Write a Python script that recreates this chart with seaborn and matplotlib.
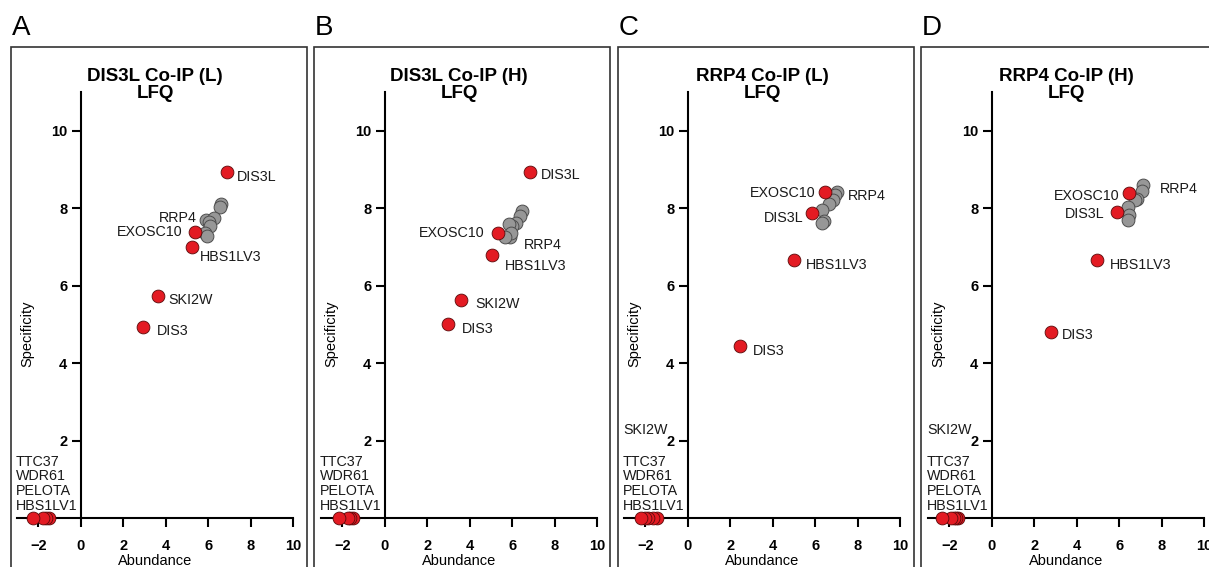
import matplotlib
matplotlib.use("Agg")
import matplotlib.pyplot as plt
import pandas as pd
import seaborn as sns
from matplotlib.patches import Rectangle

sns.set_theme(style="white")
plt.rcParams["font.family"] = ["Liberation Sans", "DejaVu Sans"]

# ---------------------------------------------------------------- data
panel_letters = ["A", "B", "C", "D"]
panel_titles = [
    "DIS3L Co-IP (L)\nLFQ",
    "DIS3L Co-IP (H)\nLFQ",
    "RRP4 Co-IP (L)\nLFQ",
    "RRP4 Co-IP (H)\nLFQ",
]
x_ticks = [-2, 0, 2, 4, 6, 8, 10]
y_ticks = [2, 4, 6, 8, 10]

# A: DIS3L Co-IP (L)
a_hit_names = ["DIS3L", "EXOSC10", "HBS1LV3", "SKI2W", "DIS3",
               "TTC37", "WDR61", "PELOTA", "HBS1LV1"]
a_hit_abundance = [6.9, 5.4, 5.26, 3.62, 2.92, -1.5, -1.65, -1.78, -2.25]
a_hit_specificity = [8.94, 7.39, 7.0, 5.74, 4.93, 0, 0, 0, 0]
a_core_names = ["RRP4", "", "", "", "", "", "", ""]
a_core_abundance = [5.9, 6.6, 6.56, 6.3, 6.05, 6.1, 5.87, 5.96]
a_core_specificity = [7.7, 8.1, 8.03, 7.75, 7.65, 7.55, 7.36, 7.27]

# B: DIS3L Co-IP (H)
b_hit_names = ["DIS3L", "EXOSC10", "HBS1LV3", "SKI2W", "DIS3",
               "TTC37", "WDR61", "PELOTA", "HBS1LV1"]
b_hit_abundance = [6.84, 5.33, 5.05, 3.58, 2.97, -1.5, -1.65, -1.75, -2.17]
b_hit_specificity = [8.94, 7.36, 6.8, 5.62, 5.0, 0, 0, 0, 0]
b_core_names = ["RRP4", "", "", "", "", "", "", ""]
b_core_abundance = [5.9, 6.46, 6.37, 6.2, 6.0, 5.86, 5.97, 5.66]
b_core_specificity = [7.26, 7.94, 7.8, 7.63, 7.53, 7.58, 7.36, 7.26]

# C: RRP4 Co-IP (L)
c_hit_names = ["EXOSC10", "DIS3L", "HBS1LV3", "DIS3",
               "SKI2W", "TTC37", "WDR61", "PELOTA", "HBS1LV1"]
c_hit_abundance = [6.46, 5.85, 5.0, 2.45, -1.46, -1.65, -1.85, -2.03, -2.22]
c_hit_specificity = [8.42, 7.88, 6.67, 4.44, 0, 0, 0, 0, 0]
c_core_names = ["RRP4", "", "", "", "", "", ""]
c_core_abundance = [7.03, 6.93, 6.84, 6.65, 6.32, 6.42, 6.32]
c_core_specificity = [8.42, 8.35, 8.22, 8.11, 7.96, 7.67, 7.62]

# D: RRP4 Co-IP (H)
d_hit_names = ["EXOSC10", "DIS3L", "HBS1LV3", "DIS3",
               "SKI2W", "TTC37", "WDR61", "PELOTA", "HBS1LV1"]
d_hit_abundance = [6.48, 5.9, 4.95, 2.8, -1.57, -1.7, -1.76, -1.9, -2.33]
d_hit_specificity = [8.4, 7.9, 6.67, 4.8, 0, 0, 0, 0, 0]
d_core_names = ["RRP4", "", "", "", "", "", ""]
d_core_abundance = [7.14, 7.1, 6.86, 6.76, 6.43, 6.48, 6.43]
d_core_specificity = [8.6, 8.45, 8.23, 8.2, 8.03, 7.83, 7.7]

hits = {
    "A": (a_hit_names, a_hit_abundance, a_hit_specificity),
    "B": (b_hit_names, b_hit_abundance, b_hit_specificity),
    "C": (c_hit_names, c_hit_abundance, c_hit_specificity),
    "D": (d_hit_names, d_hit_abundance, d_hit_specificity),
}
cores = {
    "A": (a_core_names, a_core_abundance, a_core_specificity),
    "B": (b_core_names, b_core_abundance, b_core_specificity),
    "C": (c_core_names, c_core_abundance, c_core_specificity),
    "D": (d_core_names, d_core_abundance, d_core_specificity),
}

# ---------------------------------------------------------------- styling
W, H = 1209, 567
HIT_RED = "#e31b23"
CORE_GREY = "#979797"
LABEL_SIZE = 10.3

# label offsets in pixels (dx, dy, horizontal alignment)
label_offsets = {
    "A": {"DIS3L": (10, -5, "left"), "EXOSC10": (-13, 0, "right"),
          "HBS1LV3": (8, -10, "left"), "SKI2W": (11, -4, "left"),
          "DIS3": (14, -4, "left"), "RRP4": (-9, 2, "right")},
    "B": {"DIS3L": (11, -3, "left"), "EXOSC10": (-13, 0, "right"),
          "HBS1LV3": (13, -11, "left"), "SKI2W": (15, -4, "left"),
          "DIS3": (14, -5, "left"), "RRP4": (14, -8, "left")},
    "C": {"EXOSC10": (-9, -1, "right"), "DIS3L": (-8, -5, "right"),
          "HBS1LV3": (12, -5, "left"), "DIS3": (13, -5, "left"),
          "RRP4": (11, -4, "left")},
    "D": {"EXOSC10": (-10, -3, "right"), "DIS3L": (-12, -2, "right"),
          "HBS1LV3": (13, -5, "left"), "DIS3": (11, -3, "left"),
          "RRP4": (17, -4, "left")},
}
# proteins sitting on the abundance axis are listed in a column at the left
stack_rows = {"HBS1LV1": 0, "PELOTA": 1, "WDR61": 2, "TTC37": 3, "SKI2W": 5.2}

axes_left_px = [17, 321, 624, 928]
box_left_px = [11, 314, 618, 921]
AX_W, AX_BOTTOM, AX_H = 276, 49, 426

fig = plt.figure(figsize=(W / 100, H / 100), dpi=100)

for i, letter in enumerate(panel_letters):
    # framed panel and its letter
    fig.add_artist(Rectangle((box_left_px[i] / W, -0.1), 296 / W, (H - 47) / H + 0.1,
                             transform=fig.transFigure, fill=False,
                             lw=1.2, ec="#333333"))
    fig.text((box_left_px[i] + 1) / W, 1 - 35 / H, letter, fontsize=20,
             ha="left", va="baseline", color="black")

    ax = fig.add_axes([axes_left_px[i] / W, AX_BOTTOM / H, AX_W / W, AX_H / H])
    ax.set_facecolor("none")

    core_names, core_x, core_y = cores[letter]
    hit_names, hit_x, hit_y = hits[letter]
    core_df = pd.DataFrame({"Abundance": core_x, "Specificity": core_y, "name": core_names})
    hit_df = pd.DataFrame({"Abundance": hit_x, "Specificity": hit_y, "name": hit_names})

    sns.scatterplot(data=core_df, x="Abundance", y="Specificity", ax=ax,
                    color=CORE_GREY, edgecolor="#4d4d4d", linewidth=0.7,
                    s=85, clip_on=False, zorder=3)
    sns.scatterplot(data=hit_df, x="Abundance", y="Specificity", ax=ax,
                    color=HIT_RED, edgecolor="#5a0a0a", linewidth=0.6,
                    s=85, clip_on=False, zorder=4)

    # labels
    for df in (core_df, hit_df):
        for name, x, y in zip(df["name"], df["Abundance"], df["Specificity"]):
            if not name:
                continue
            if name in stack_rows and y == 0:
                ax.annotate(name, xy=(0, 0), xycoords="axes fraction",
                            xytext=(-1, 12.5 + 14.5 * stack_rows[name]),
                            textcoords="offset pixels", ha="left", va="center",
                            fontsize=LABEL_SIZE, color="#1a1a1a")
            else:
                dx, dy, ha = label_offsets[letter][name]
                ax.annotate(name, xy=(x, y), xytext=(dx, dy),
                            textcoords="offset pixels", ha=ha, va="center",
                            fontsize=LABEL_SIZE, color="#1a1a1a", zorder=5)

    # axes
    ax.set_xlim(-3, 10)
    ax.set_ylim(0, 11)
    ax.set_xticks(x_ticks)
    ax.set_yticks(y_ticks)
    ax.spines["top"].set_visible(False)
    ax.spines["right"].set_visible(False)
    ax.spines["left"].set_position(("data", 0))
    for side in ("left", "bottom"):
        ax.spines[side].set_linewidth(1.5)
        ax.spines[side].set_color("black")
        ax.spines[side].set_zorder(2)
    ax.tick_params(axis="both", direction="out", length=6.5, width=1.5,
                   color="black", labelsize=10.5, labelcolor="black")
    ax.tick_params(axis="x", pad=8.5, bottom=True)
    ax.tick_params(axis="y", pad=3, left=True)
    for lab in ax.get_xticklabels() + ax.get_yticklabels():
        lab.set_fontweight("bold")

    ax.set_xlabel("Abundance", fontsize=10.5, labelpad=1, color="black")
    ax.set_ylabel("")
    ax.text(0.039, 0.432, "Specificity", transform=ax.transAxes, rotation=90,
            ha="center", va="center", fontsize=10.5, color="black")
    ax.text(0.5, 1.017, panel_titles[i], transform=ax.transAxes, ha="center",
            va="center", fontsize=13.5, fontweight="bold", linespacing=1.0,
            color="black")

fig.savefig("out.png", dpi=100)
